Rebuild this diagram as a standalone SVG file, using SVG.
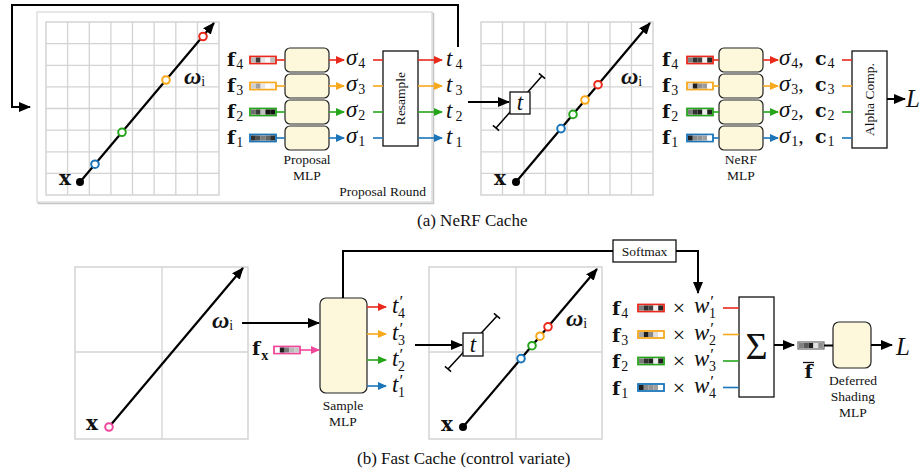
<svg xmlns="http://www.w3.org/2000/svg" width="922" height="470" viewBox="0 0 922 470">
<style>
text{font-family:"Liberation Serif","DejaVu Serif",serif;fill:#111}
.lbl{font-size:13.5px}
.cap{font-size:17px}
.fb{font-family:"DejaVu Serif","Liberation Serif",serif;font-size:19px;font-weight:bold}
.sb{font-family:"Liberation Serif",serif;font-size:14px;font-weight:normal;font-style:normal}
.pr{font-family:"Liberation Serif",serif;font-size:17px;font-weight:normal;font-style:normal}
.mi{font-size:23px;font-style:italic}
.om{font-size:24px;font-style:italic;font-weight:bold}
.grid{stroke:#d3d3d3;stroke-width:1.3;fill:none}
.gframe{stroke:#d3d3d3;stroke-width:1.5;fill:#fff}
.blk{stroke:#000;stroke-width:2;fill:none}
.mlp{fill:#fdf8dc;stroke:#222;stroke-width:1.2}
.box{fill:#fff;stroke:#111;stroke-width:1.3}
.r{stroke:#e8291c}.o{stroke:#f7a81b}.g{stroke:#26a51c}.b{stroke:#1b75bb}.p{stroke:#f0479b}
.cl{stroke-width:1.6;fill:none}
.ring{fill:#fff;stroke-width:2}
</style>
<defs>
<marker id="ab" markerUnits="userSpaceOnUse" markerWidth="12" markerHeight="10" refX="11" refY="5" orient="auto"><path d="M0,0 L12,5 L0,10 z" fill="#000"/></marker>
<marker id="ar" markerUnits="userSpaceOnUse" markerWidth="9" markerHeight="8" refX="8" refY="4" orient="auto"><path d="M0,0 L9,4 L0,8 z" fill="#e8291c"/></marker>
<marker id="ao" markerUnits="userSpaceOnUse" markerWidth="9" markerHeight="8" refX="8" refY="4" orient="auto"><path d="M0,0 L9,4 L0,8 z" fill="#f7a81b"/></marker>
<marker id="ag" markerUnits="userSpaceOnUse" markerWidth="9" markerHeight="8" refX="8" refY="4" orient="auto"><path d="M0,0 L9,4 L0,8 z" fill="#26a51c"/></marker>
<marker id="abl" markerUnits="userSpaceOnUse" markerWidth="9" markerHeight="8" refX="8" refY="4" orient="auto"><path d="M0,0 L9,4 L0,8 z" fill="#1b75bb"/></marker>
<marker id="ap" markerUnits="userSpaceOnUse" markerWidth="9" markerHeight="8" refX="8" refY="4" orient="auto"><path d="M0,0 L9,4 L0,8 z" fill="#f0479b"/></marker>
</defs>

<g id="proposal-round">
<rect x="38.5" y="13.5" width="395" height="190" fill="none" stroke="#c4c4c4" stroke-width="1.5"/>
<rect x="37" y="12" width="395" height="190" fill="#fff" stroke="#d6d6d6" stroke-width="1.2"/>
<text class="lbl" x="426" y="196" text-anchor="end">Proposal Round</text>
</g>

<g id="grid-a1">
<rect class="gframe" x="46" y="22" width="173" height="173"/>
<path class="grid" d="M67.6,22V195M89.3,22V195M110.9,22V195M132.5,22V195M154.1,22V195M175.8,22V195M197.4,22V195M46,43.6H219M46,65.3H219M46,86.9H219M46,108.5H219M46,130.1H219M46,151.8H219M46,173.4H219"/>
<line x1="80" y1="182" x2="214" y2="23" stroke="#000" stroke-width="2.2" marker-end="url(#ab)"/>
<circle cx="80" cy="182" r="4" fill="#000"/>
<circle class="ring b" cx="95" cy="164.2" r="3.8"/>
<circle class="ring g" cx="122" cy="132.3" r="3.8"/>
<circle class="ring o" cx="166" cy="80" r="3.8"/>
<circle class="ring r" cx="203" cy="36.5" r="3.8"/>
<text class="fb" x="59" y="185" style="font-size:20px">x</text>
<text class="om" x="184" y="84">ω<tspan class="sb" dy="2">i</tspan></text>
</g>

<g id="proposal-inputs">
<text class="fb" x="227" y="66">f<tspan class="sb" dx="1" dy="3">4</tspan></text>
<text class="fb" x="227" y="92">f<tspan class="sb" dx="1" dy="3">3</tspan></text>
<text class="fb" x="227" y="118">f<tspan class="sb" dx="1" dy="3">2</tspan></text>
<text class="fb" x="227" y="144">f<tspan class="sb" dx="1" dy="3">1</tspan></text>
<rect x="250" y="56.5" width="26" height="7" fill="#fff" stroke="#e8291c" stroke-width="1.8"/>
<rect x="251" y="57.5" width="4.8" height="5" fill="#bdbdbd"/><rect x="255.8" y="57.5" width="4.8" height="5" fill="#3c3c3c"/><rect x="260.6" y="57.5" width="4.8" height="5" fill="#e4e4e4"/><rect x="265.4" y="57.5" width="4.8" height="5" fill="#fafafa"/><rect x="270.2" y="57.5" width="4.8" height="5" fill="#bdbdbd"/>
<rect x="250" y="82.5" width="26" height="7" fill="#fff" stroke="#f7a81b" stroke-width="1.8"/>
<rect x="251" y="83.5" width="4.8" height="5" fill="#d0d0d0"/><rect x="255.8" y="83.5" width="4.8" height="5" fill="#a0a0a0"/><rect x="260.6" y="83.5" width="4.8" height="5" fill="#e6e6e6"/><rect x="265.4" y="83.5" width="4.8" height="5" fill="#fff"/><rect x="270.2" y="83.5" width="4.8" height="5" fill="#f4f4f4"/>
<rect x="250" y="108.5" width="26" height="7" fill="#fff" stroke="#26a51c" stroke-width="1.8"/>
<rect x="251" y="109.5" width="4.8" height="5" fill="#6e6e6e"/><rect x="255.8" y="109.5" width="4.8" height="5" fill="#3a3a3a"/><rect x="260.6" y="109.5" width="4.8" height="5" fill="#c0c0c0"/><rect x="265.4" y="109.5" width="4.8" height="5" fill="#141414"/><rect x="270.2" y="109.5" width="4.8" height="5" fill="#141414"/>
<rect x="250" y="134.5" width="26" height="7" fill="#fff" stroke="#1b75bb" stroke-width="1.8"/>
<rect x="251" y="135.5" width="4.8" height="5" fill="#303030"/><rect x="255.8" y="135.5" width="4.8" height="5" fill="#505050"/><rect x="260.6" y="135.5" width="4.8" height="5" fill="#7c7c7c"/><rect x="265.4" y="135.5" width="4.8" height="5" fill="#626262"/><rect x="270.2" y="135.5" width="4.8" height="5" fill="#303030"/>
</g>
<g id="proposal-mlp">
<rect class="mlp" x="285" y="48" width="44" height="24" rx="5"/>
<rect class="mlp" x="285" y="74" width="44" height="24" rx="5"/>
<rect class="mlp" x="285" y="100" width="44" height="24" rx="5"/>
<rect class="mlp" x="285" y="126" width="44" height="24" rx="5"/>
<text class="lbl" x="307" y="164" text-anchor="middle">Proposal</text>
<text class="lbl" x="307" y="180" text-anchor="middle">MLP</text>
</g>
<g id="sigma-a">
<text class="mi" x="346" y="65">σ<tspan class="sb" dx="1" dy="3">4</tspan></text>
<text class="mi" x="346" y="91">σ<tspan class="sb" dx="1" dy="3">3</tspan></text>
<text class="mi" x="346" y="117">σ<tspan class="sb" dx="1" dy="3">2</tspan></text>
<text class="mi" x="346" y="143">σ<tspan class="sb" dx="1" dy="3">1</tspan></text>
</g>
<g id="resample">
<rect class="box" x="383" y="51" width="35" height="95"/>
<text class="lbl" transform="translate(400.5 98.5) rotate(-90)" text-anchor="middle" dominant-baseline="central">Resample</text>
</g>
<g id="t-labels-a">
<text class="mi" x="446" y="66">t<tspan class="sb" dx="3" dy="3">4</tspan></text>
<text class="mi" x="446" y="92">t<tspan class="sb" dx="3" dy="3">3</tspan></text>
<text class="mi" x="446" y="118">t<tspan class="sb" dx="3" dy="3">2</tspan></text>
<text class="mi" x="446" y="144">t<tspan class="sb" dx="3" dy="3">1</tspan></text>
</g>

<g id="grid-a2">
<rect class="gframe" x="481" y="22" width="172" height="173"/>
<path class="grid" d="M502.5,22V195M524,22V195M545.5,22V195M567,22V195M588.5,22V195M610,22V195M631.5,22V195M481,43.6H653M481,65.3H653M481,86.9H653M481,108.5H653M481,130.1H653M481,151.8H653M481,173.4H653"/>
<line x1="516" y1="182" x2="650" y2="23" stroke="#000" stroke-width="2.2" marker-end="url(#ab)"/>
<circle cx="516" cy="182" r="4" fill="#000"/>
<circle class="ring b" cx="561" cy="128.6" r="3.8"/>
<circle class="ring g" cx="573" cy="114.4" r="3.8"/>
<circle class="ring o" cx="585" cy="100" r="3.8"/>
<circle class="ring r" cx="598" cy="84.7" r="3.8"/>
<path d="M496,128L542,76M492.9,125.4L499.1,130.6M538.9,73.4L545.1,78.6" stroke="#000" stroke-width="1.5" fill="none"/>
<rect class="box" x="510" y="92" width="20" height="22"/>
<text class="mi" x="520" y="110" text-anchor="middle">t</text>
<text class="fb" x="494" y="185" style="font-size:20px">x</text>
<text class="om" x="621" y="84">ω<tspan class="sb" dy="2">i</tspan></text>
</g>

<g id="nerf-inputs">
<text class="fb" x="662" y="66">f<tspan class="sb" dx="1" dy="3">4</tspan></text>
<text class="fb" x="662" y="92">f<tspan class="sb" dx="1" dy="3">3</tspan></text>
<text class="fb" x="662" y="118">f<tspan class="sb" dx="1" dy="3">2</tspan></text>
<text class="fb" x="662" y="144">f<tspan class="sb" dx="1" dy="3">1</tspan></text>
<rect x="687" y="56.5" width="26" height="7" fill="#fff" stroke="#e8291c" stroke-width="1.8"/>
<rect x="688" y="57.5" width="4.8" height="5" fill="#808080"/><rect x="692.8" y="57.5" width="4.8" height="5" fill="#303030"/><rect x="697.6" y="57.5" width="4.8" height="5" fill="#404040"/><rect x="702.4" y="57.5" width="4.8" height="5" fill="#f0f0f0"/><rect x="707.2" y="57.5" width="4.8" height="5" fill="#252525"/>
<rect x="687" y="82.5" width="26" height="7" fill="#fff" stroke="#f7a81b" stroke-width="1.8"/>
<rect x="688" y="83.5" width="4.8" height="5" fill="#dcdcdc"/><rect x="692.8" y="83.5" width="4.8" height="5" fill="#1e1e1e"/><rect x="697.6" y="83.5" width="4.8" height="5" fill="#909090"/><rect x="702.4" y="83.5" width="4.8" height="5" fill="#9a9a9a"/><rect x="707.2" y="83.5" width="4.8" height="5" fill="#fff"/>
<rect x="687" y="108.5" width="26" height="7" fill="#fff" stroke="#26a51c" stroke-width="1.8"/>
<rect x="688" y="109.5" width="4.8" height="5" fill="#7a7a7a"/><rect x="692.8" y="109.5" width="4.8" height="5" fill="#303030"/><rect x="697.6" y="109.5" width="4.8" height="5" fill="#202020"/><rect x="702.4" y="109.5" width="4.8" height="5" fill="#ececec"/><rect x="707.2" y="109.5" width="4.8" height="5" fill="#202020"/>
<rect x="687" y="134.5" width="26" height="7" fill="#fff" stroke="#1b75bb" stroke-width="1.8"/>
<rect x="688" y="135.5" width="4.8" height="5" fill="#202020"/><rect x="692.8" y="135.5" width="4.8" height="5" fill="#8c8c8c"/><rect x="697.6" y="135.5" width="4.8" height="5" fill="#939393"/><rect x="702.4" y="135.5" width="4.8" height="5" fill="#a0a0a0"/><rect x="707.2" y="135.5" width="4.8" height="5" fill="#fff"/>
</g>
<g id="nerf-mlp">
<rect class="mlp" x="719" y="48" width="44" height="24" rx="5"/>
<rect class="mlp" x="719" y="74" width="44" height="24" rx="5"/>
<rect class="mlp" x="719" y="100" width="44" height="24" rx="5"/>
<rect class="mlp" x="719" y="126" width="44" height="24" rx="5"/>
<text class="lbl" x="741" y="164" text-anchor="middle">NeRF</text>
<text class="lbl" x="741" y="180" text-anchor="middle">MLP</text>
</g>
<g id="sigma-c">
<text class="mi" x="779" y="65">σ<tspan class="sb" dx="1" dy="3">4</tspan><tspan class="pr" dy="-3" style="font-size:22px">,</tspan></text><text class="fb" x="815" y="65">c<tspan class="sb" dx="1" dy="3">4</tspan></text>
<text class="mi" x="779" y="91">σ<tspan class="sb" dx="1" dy="3">3</tspan><tspan class="pr" dy="-3" style="font-size:22px">,</tspan></text><text class="fb" x="815" y="91">c<tspan class="sb" dx="1" dy="3">3</tspan></text>
<text class="mi" x="779" y="117">σ<tspan class="sb" dx="1" dy="3">2</tspan><tspan class="pr" dy="-3" style="font-size:22px">,</tspan></text><text class="fb" x="815" y="117">c<tspan class="sb" dx="1" dy="3">2</tspan></text>
<text class="mi" x="779" y="143">σ<tspan class="sb" dx="1" dy="3">1</tspan><tspan class="pr" dy="-3" style="font-size:22px">,</tspan></text><text class="fb" x="815" y="143">c<tspan class="sb" dx="1" dy="3">1</tspan></text>
</g>
<g id="alpha-comp">
<rect class="box" x="852" y="51" width="35" height="97"/>
<text class="lbl" transform="translate(869.5 99.5) rotate(-90)" text-anchor="middle" dominant-baseline="central">Alpha Comp.</text>
</g>
<g id="L-a"><text x="906" y="107" style="font-size:25px;font-style:italic">L</text></g>

<text class="cap" x="417" y="226">(a) NeRF Cache</text>

<g id="grid-b1">
<rect class="gframe" x="75" y="267" width="173" height="172"/>
<path class="grid" d="M162,267V439M75,352H248"/>
<line x1="109" y1="427" x2="243" y2="268" stroke="#000" stroke-width="2.2" marker-end="url(#ab)"/>
<circle class="ring p" cx="109" cy="427" r="3.8"/>
<text class="fb" x="86" y="430" style="font-size:20px">x</text>
<text class="om" x="212" y="328">ω<tspan class="sb" dy="2">i</tspan></text>
</g>
<g id="fx">
<text class="fb" x="252" y="355">f<tspan class="sb" dx="1" dy="5" style="font-weight:bold">x</tspan></text>
<rect x="274" y="346.5" width="26" height="7" fill="#fff" stroke="#f0479b" stroke-width="1.8"/>
<rect x="275" y="347.5" width="4.8" height="5" fill="#fff"/><rect x="279.8" y="347.5" width="4.8" height="5" fill="#1e1e1e"/><rect x="284.6" y="347.5" width="4.8" height="5" fill="#7a7a7a"/><rect x="289.4" y="347.5" width="4.8" height="5" fill="#b8b8b8"/><rect x="294.2" y="347.5" width="4.8" height="5" fill="#c8c8c8"/>
</g>
<g id="sample-mlp">
<rect class="mlp" x="320" y="298" width="47" height="95" rx="6"/>
<text class="lbl" x="343" y="410" text-anchor="middle">Sample</text>
<text class="lbl" x="343" y="426" text-anchor="middle">MLP</text>
</g>
<g id="t-prime">
<text class="mi" x="392" y="313">t<tspan class="pr" dx="1" dy="-6">′</tspan><tspan class="sb" dx="-5" dy="11">4</tspan></text>
<text class="mi" x="392" y="340">t<tspan class="pr" dx="1" dy="-6">′</tspan><tspan class="sb" dx="-5" dy="11">3</tspan></text>
<text class="mi" x="392" y="366">t<tspan class="pr" dx="1" dy="-6">′</tspan><tspan class="sb" dx="-5" dy="11">2</tspan></text>
<text class="mi" x="392" y="392">t<tspan class="pr" dx="1" dy="-6">′</tspan><tspan class="sb" dx="-5" dy="11">1</tspan></text>
</g>

<g id="grid-b2">
<rect class="gframe" x="429" y="267" width="173" height="172"/>
<path class="grid" d="M516,267V439M429,352H602"/>
<line x1="463" y1="427" x2="597" y2="269" stroke="#000" stroke-width="2.2" marker-end="url(#ab)"/>
<circle cx="463" cy="427" r="4" fill="#000"/>
<circle class="ring b" cx="521" cy="358.6" r="3.8"/>
<circle class="ring g" cx="532" cy="345.7" r="3.8"/>
<circle class="ring o" cx="540" cy="336.2" r="3.8"/>
<circle class="ring r" cx="548" cy="326.8" r="3.8"/>
<path d="M448,369L497,316M444.9,366.4L451.1,371.6M493.9,313.4L500.1,318.6" stroke="#000" stroke-width="1.5" fill="none"/>
<rect class="box" x="463" y="333" width="20" height="23"/>
<text class="mi" x="473" y="352" text-anchor="middle">t</text>
<text class="fb" x="441" y="431" style="font-size:20px">x</text>
<text class="om" x="566" y="326">ω<tspan class="sb" dy="2">i</tspan></text>
</g>

<g id="softmax">
<rect class="box" x="613" y="240" width="63" height="22"/>
<text class="lbl" x="644.5" y="256" text-anchor="middle">Softmax</text>
</g>

<g id="weighted-features">
<text class="fb" x="612" y="315">f<tspan class="sb" dx="1" dy="3">4</tspan></text>
<text class="fb" x="612" y="341.5">f<tspan class="sb" dx="1" dy="3">3</tspan></text>
<text class="fb" x="612" y="368">f<tspan class="sb" dx="1" dy="3">2</tspan></text>
<text class="fb" x="612" y="394.5">f<tspan class="sb" dx="1" dy="3">1</tspan></text>
<rect x="638" y="304.5" width="26" height="7" fill="#fff" stroke="#e8291c" stroke-width="1.8"/>
<rect x="639" y="305.5" width="4.8" height="5" fill="#808080"/><rect x="643.8" y="305.5" width="4.8" height="5" fill="#303030"/><rect x="648.6" y="305.5" width="4.8" height="5" fill="#404040"/><rect x="653.4" y="305.5" width="4.8" height="5" fill="#f0f0f0"/><rect x="658.2" y="305.5" width="4.8" height="5" fill="#252525"/>
<rect x="638" y="331" width="26" height="7" fill="#fff" stroke="#f7a81b" stroke-width="1.8"/>
<rect x="639" y="332" width="4.8" height="5" fill="#a8a8a8"/><rect x="643.8" y="332" width="4.8" height="5" fill="#1e1e1e"/><rect x="648.6" y="332" width="4.8" height="5" fill="#8a8a8a"/><rect x="653.4" y="332" width="4.8" height="5" fill="#e0e0e0"/><rect x="658.2" y="332" width="4.8" height="5" fill="#fff"/>
<rect x="638" y="357.5" width="26" height="7" fill="#fff" stroke="#26a51c" stroke-width="1.8"/>
<rect x="639" y="358.5" width="4.8" height="5" fill="#7a7a7a"/><rect x="643.8" y="358.5" width="4.8" height="5" fill="#303030"/><rect x="648.6" y="358.5" width="4.8" height="5" fill="#202020"/><rect x="653.4" y="358.5" width="4.8" height="5" fill="#ececec"/><rect x="658.2" y="358.5" width="4.8" height="5" fill="#202020"/>
<rect x="638" y="384" width="26" height="7" fill="#fff" stroke="#1b75bb" stroke-width="1.8"/>
<rect x="639" y="385" width="4.8" height="5" fill="#202020"/><rect x="643.8" y="385" width="4.8" height="5" fill="#8c8c8c"/><rect x="648.6" y="385" width="4.8" height="5" fill="#939393"/><rect x="653.4" y="385" width="4.8" height="5" fill="#a0a0a0"/><rect x="658.2" y="385" width="4.8" height="5" fill="#fff"/>
<g style="font-size:22px">
<text x="679" y="315" text-anchor="middle">×</text>
<text x="679" y="341.5" text-anchor="middle">×</text>
<text x="679" y="368" text-anchor="middle">×</text>
<text x="679" y="394.5" text-anchor="middle">×</text>
</g>
<text class="mi" x="694" y="313">w<tspan class="pr" dx="1" dy="-6">′</tspan><tspan class="sb" dx="-5" dy="11">1</tspan></text>
<text class="mi" x="694" y="339.5">w<tspan class="pr" dx="1" dy="-6">′</tspan><tspan class="sb" dx="-5" dy="11">2</tspan></text>
<text class="mi" x="694" y="366">w<tspan class="pr" dx="1" dy="-6">′</tspan><tspan class="sb" dx="-5" dy="11">3</tspan></text>
<text class="mi" x="694" y="392.5">w<tspan class="pr" dx="1" dy="-6">′</tspan><tspan class="sb" dx="-5" dy="11">4</tspan></text>
</g>
<g id="sum">
<rect class="box" x="739" y="297" width="35" height="100"/>
<text x="756.5" y="359" text-anchor="middle" style="font-size:38px">Σ</text>
</g>
<g id="fbar">
<rect x="798" y="342" width="26" height="7" fill="#fff" stroke="#666" stroke-width="1.2"/>
<rect x="799" y="343" width="4.8" height="5" fill="#808080"/><rect x="803.8" y="343" width="4.8" height="5" fill="#5a5a5a"/><rect x="808.6" y="343" width="4.8" height="5" fill="#1e1e1e"/><rect x="813.4" y="343" width="4.8" height="5" fill="#e0e0e0"/><rect x="818.2" y="343" width="4.8" height="5" fill="#909090"/>
<line x1="803" y1="362.5" x2="814" y2="362.5" stroke="#111" stroke-width="1.3"/>
<text class="fb" x="808.5" y="378" text-anchor="middle">f</text>
</g>
<g id="deferred-mlp">
<rect class="mlp" x="833" y="322" width="38" height="46" rx="6"/>
<text class="lbl" x="853" y="385" text-anchor="middle">Deferred</text>
<text class="lbl" x="853" y="401" text-anchor="middle">Shading</text>
<text class="lbl" x="853" y="417" text-anchor="middle">MLP</text>
</g>
<g id="L-b"><text x="896" y="355" style="font-size:25px;font-style:italic">L</text></g>

<text class="cap" x="357" y="464">(b) Fast Cache (control variate)</text>

<g id="connectors">
<path class="blk" d="M458,47V5H12V107H30" marker-end="url(#ab)"/>
<path class="cl r" d="M276,60H285"/><path class="cl o" d="M276,86H285"/><path class="cl g" d="M276,112H285"/><path class="cl b" d="M276,138H285"/>
<path class="cl r" d="M329,60H344" marker-end="url(#ar)"/><path class="cl o" d="M329,86H344" marker-end="url(#ao)"/><path class="cl g" d="M329,112H344" marker-end="url(#ag)"/><path class="cl b" d="M329,138H344" marker-end="url(#abl)"/>
<path class="cl r" d="M373,60H383"/><path class="cl o" d="M373,86H383"/><path class="cl g" d="M373,112H383"/><path class="cl b" d="M373,138H383"/>
<path class="cl r" d="M418,60H442" marker-end="url(#ar)"/><path class="cl o" d="M418,86H442" marker-end="url(#ao)"/><path class="cl g" d="M418,112H442" marker-end="url(#ag)"/><path class="cl b" d="M418,138H442" marker-end="url(#abl)"/>
<path class="blk" d="M468,102H509" marker-end="url(#ab)"/>
<path class="cl r" d="M713,60H719"/><path class="cl o" d="M713,86H719"/><path class="cl g" d="M713,112H719"/><path class="cl b" d="M713,138H719"/>
<path class="cl r" d="M763,60H778" marker-end="url(#ar)"/><path class="cl o" d="M763,86H778" marker-end="url(#ao)"/><path class="cl g" d="M763,112H778" marker-end="url(#ag)"/><path class="cl b" d="M763,138H778" marker-end="url(#abl)"/>
<path class="cl r" d="M842,60H852"/><path class="cl o" d="M842,86H852"/><path class="cl g" d="M842,112H852"/><path class="cl b" d="M842,138H852"/>
<path class="blk" d="M887,99H905" marker-end="url(#ab)"/>
<path class="blk" d="M242,323H319" marker-end="url(#ab)"/>
<path class="cl p" d="M300,350H319" marker-end="url(#ap)"/>
<path class="blk" d="M343,298V251H613"/>
<path class="blk" d="M676,251H698V293" marker-end="url(#ab)"/>
<path class="cl r" d="M367,307H386" marker-end="url(#ar)"/><path class="cl o" d="M367,334H386" marker-end="url(#ao)"/><path class="cl g" d="M367,360H386" marker-end="url(#ag)"/><path class="cl b" d="M367,386H386" marker-end="url(#abl)"/>
<path class="blk" d="M415,345H462" marker-end="url(#ab)"/>
<path class="cl r" d="M723,308H739"/><path class="cl o" d="M723,334.5H739"/><path class="cl g" d="M723,361H739"/><path class="cl b" d="M723,387.5H739"/>
<path class="blk" d="M774,345H794" marker-end="url(#ab)"/>
<path class="blk" d="M824,345.5H833"/>
<path class="blk" d="M871,345H892" marker-end="url(#ab)"/>
</g>
</svg>
